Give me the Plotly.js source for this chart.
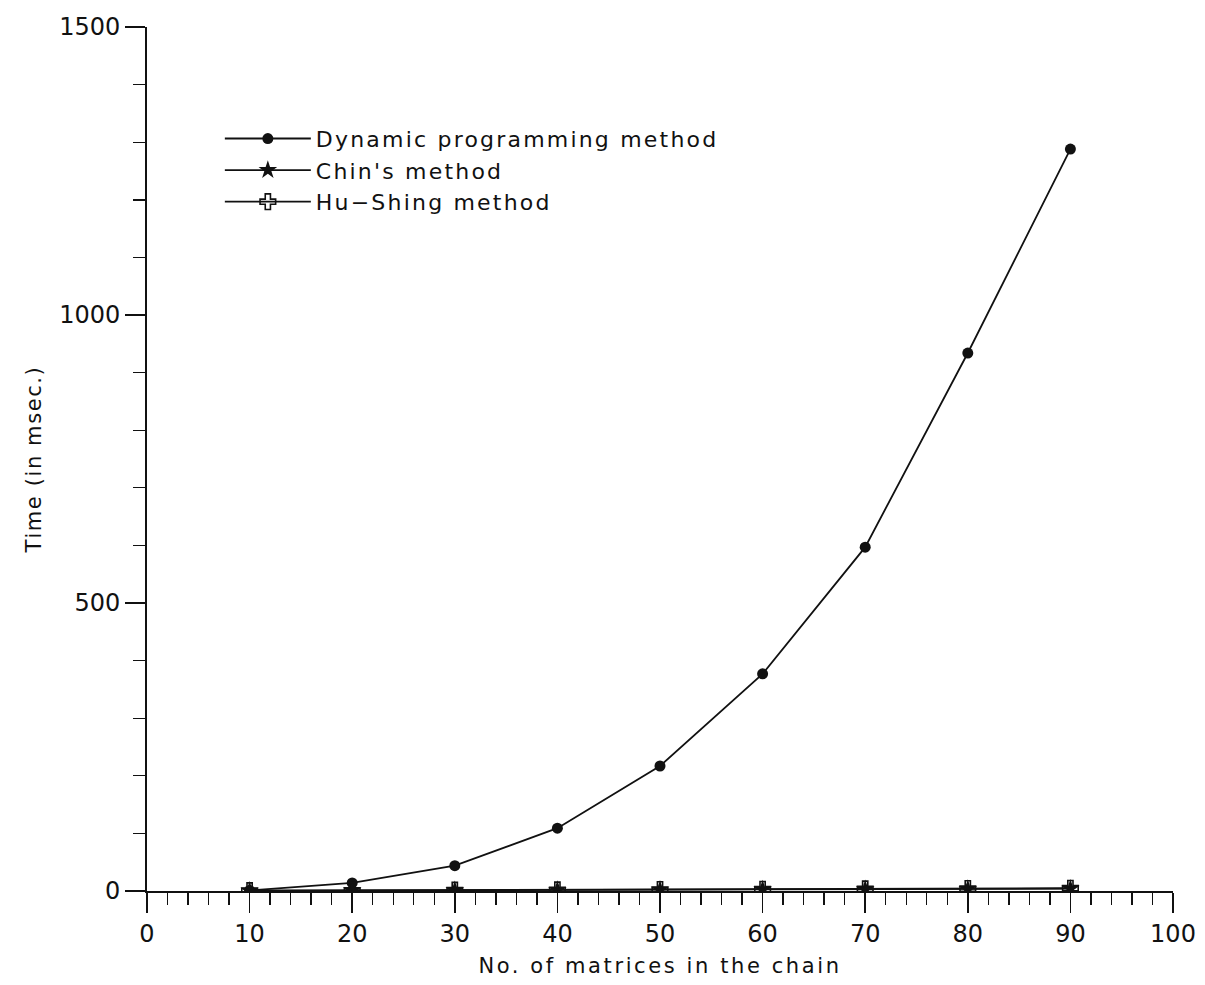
<!DOCTYPE html>
<html>
<head>
<meta charset="utf-8">
<script src="https://cdn.plot.ly/plotly-3.0.1.min.js"></script>
<style>
html,body{margin:0;padding:0;background:#fff;}
#chart{width:1205px;height:985px;}
text.legendtext{letter-spacing:2.2px;}
.g-xtitle text{letter-spacing:2.6px;}
.g-ytitle text{letter-spacing:1.6px;}
</style>
</head>
<body>
<div id="chart"></div>
<script>
// Number of matrices in the chain
const matrices = [10, 20, 30, 40, 50, 60, 70, 80, 90];
// Time (in msec.)
const dynamicProgramming = [1, 14, 44, 109, 217, 377, 597, 934, 1288];
const chinsMethod = [0.5, 0.8, 1.2, 1.6, 2.0, 2.5, 3.0, 3.5, 4.0];
const huShingMethod = [0.6, 1.0, 1.4, 1.9, 2.4, 3.0, 3.6, 4.2, 4.8];
const seriesNames = ["Dynamic programming method", "Chin's method", "Hu\u2212Shing method"];

const FONT = "DejaVu Sans, Liberation Sans, sans-serif";
const INK = "#111";

const traces = [
  {
    x: matrices, y: dynamicProgramming, name: seriesNames[0],
    type: "scatter", mode: "lines+markers",
    line: {color: INK, width: 1.8},
    marker: {symbol: "circle", size: 11, color: INK}
  },
  {
    x: matrices, y: chinsMethod, name: seriesNames[1],
    type: "scatter", mode: "lines+markers",
    line: {color: INK, width: 1.8},
    marker: {symbol: "star", size: 14, color: INK}
  },
  {
    x: matrices, y: huShingMethod, name: seriesNames[2],
    type: "scatter", mode: "lines+markers",
    line: {color: INK, width: 1.8},
    marker: {symbol: "cross-open", size: 13, color: INK, line: {color: INK, width: 1.6}}
  }
];

const layout = {
  width: 1205, height: 985,
  paper_bgcolor: "#fff", plot_bgcolor: "#fff",
  margin: {l: 147, r: 32, t: 27, b: 94},
  font: {family: FONT, color: INK, size: 22},
  showlegend: true,
  legend: {
    x: 0.071, y: 0.895, xanchor: "left", yanchor: "top",
    bgcolor: "rgba(0,0,0,0)", borderwidth: 0,
    font: {family: FONT, size: 22, color: INK},
    itemwidth: 86, tracegroupgap: 0
  },
  xaxis: {
    range: [0, 100], dtick: 10, tick0: 0,
    showgrid: false, zeroline: false,
    showline: true, linecolor: INK, linewidth: 1.8,
    ticks: "outside", ticklen: 20, tickwidth: 1.6, tickcolor: INK,
    minor: {dtick: 2, ticks: "outside", ticklen: 12, tickwidth: 1.4, tickcolor: INK, showgrid: false},
    tickfont: {family: FONT, size: 24, color: INK},
    title: {text: "No. of matrices in the chain", font: {family: FONT, size: 21, color: INK}, standoff: 12}
  },
  yaxis: {
    range: [0, 1500], dtick: 500, tick0: 0,
    showgrid: false, zeroline: false,
    showline: true, linecolor: INK, linewidth: 1.8,
    ticks: "outside", ticklen: 20, tickwidth: 1.6, tickcolor: INK,
    minor: {dtick: 100, ticks: "outside", ticklen: 12, tickwidth: 1.4, tickcolor: INK, showgrid: false},
    tickfont: {family: FONT, size: 24, color: INK},
    title: {text: "Time (in msec.)", font: {family: FONT, size: 21, color: INK}, standoff: 12}
  }
};

Plotly.newPlot("chart", traces, layout, {displayModeBar: false, staticPlot: true});
</script>
</body>
</html>
